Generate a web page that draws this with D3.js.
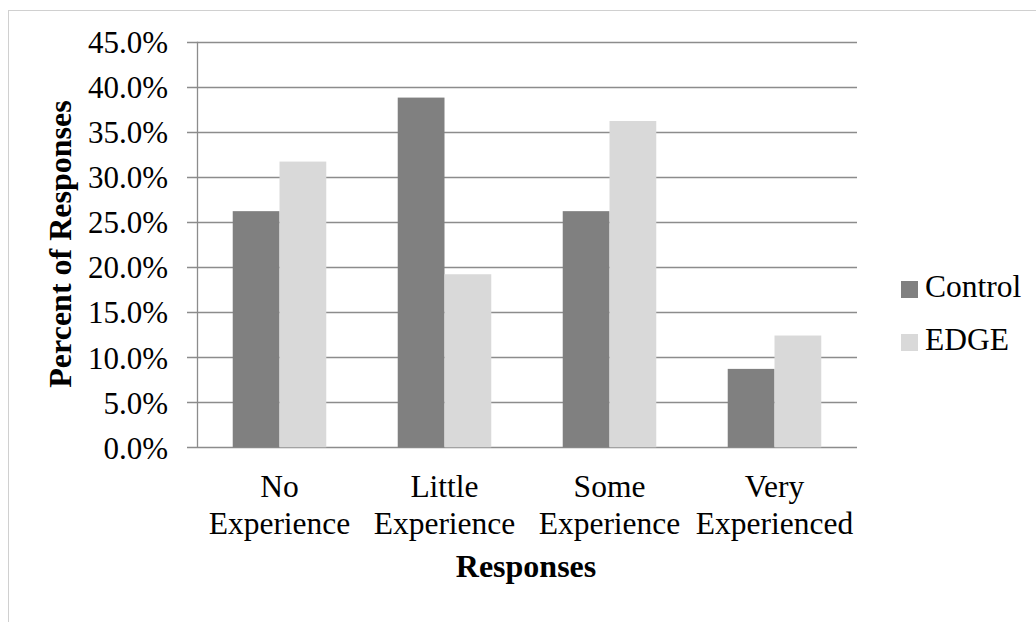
<!DOCTYPE html>
<html>
<head>
<meta charset="utf-8">
<script src="https://cdn.jsdelivr.net/npm/d3@7"></script>
<style>
  body { margin: 0; background: #fff; }
  text { font-family: "Liberation Serif", "Times New Roman", serif; fill: #000; }
</style>
</head>
<body>
<div id="chart"></div>
<script>
// data
var categories = [["No", "Experience"], ["Little", "Experience"], ["Some", "Experience"], ["Very", "Experienced"]];
var seriesNames = ["Control", "EDGE"];
var control = [0.262, 0.388, 0.262, 0.087];
var edge = [0.317, 0.192, 0.362, 0.124];
var yTicks = [0, 0.05, 0.10, 0.15, 0.20, 0.25, 0.30, 0.35, 0.40, 0.45];
var colors = ["#808080", "#d9d9d9"];

var width = 1036, height = 622;

var svg = d3.select("#chart")
  .append("svg")
    .attr("width", width)
    .attr("height", height);

// outer chart border
svg.append("rect")
  .attr("x", 8.5).attr("y", 10.5)
  .attr("width", 1040).attr("height", 640)
  .attr("fill", "none")
  .attr("stroke", "#d0d0d0");

var plotLeft = 197, plotRight = 857;

var y = d3.scaleLinear()
  .domain([0, 0.45])
  .range([447.3, 41.7]);

var x = d3.scaleBand()
  .domain(d3.range(categories.length))
  .range([plotLeft, plotRight])
  .padding(0);

var groupW = x.bandwidth() * 0.567;
var xs = d3.scaleBand()
  .domain(seriesNames)
  .range([0, groupW]);

// gridlines (they stick out left of the axis like tick marks)
svg.append("g")
  .selectAll("line")
  .data(yTicks)
  .enter()
  .append("line")
    .attr("x1", plotLeft - 10)
    .attr("x2", plotRight)
    .attr("y1", function (d) { return Math.round(y(d)) + 0.5; })
    .attr("y2", function (d) { return Math.round(y(d)) + 0.5; })
    .attr("stroke", "#8c8c8c")
    .attr("stroke-width", 1.3);

// bars
var table = seriesNames.map(function (s, i) {
  var vals = i === 0 ? control : edge;
  return vals.map(function (v, j) { return { series: s, cat: j, value: v, color: colors[i] }; });
});

svg.append("g")
  .selectAll("g")
  .data(table)
  .enter()
  .append("g")
  .selectAll("rect")
  .data(function (d) { return d; })
  .enter()
  .append("rect")
    .attr("x", function (d) { return x(d.cat) + (x.bandwidth() - groupW) / 2 + xs(d.series); })
    .attr("y", function (d) { return y(d.value); })
    .attr("width", xs.bandwidth())
    .attr("height", function (d) { return y(0) - y(d.value); })
    .attr("fill", function (d) { return d.color; });

// y axis
var yAxis = svg.append("g")
  .attr("transform", "translate(" + plotLeft + ",0)")
  .call(d3.axisLeft(y).tickValues(yTicks).tickFormat(d3.format(".1%")).tickSize(0).tickPadding(29));
yAxis.select(".domain").remove();
yAxis.selectAll("text")
  .attr("font-size", 31)
  .attr("font-family", "Liberation Serif, Times New Roman, serif")
  .attr("dy", "0.35em");

svg.append("line")
  .attr("x1", plotLeft + 0.5).attr("x2", plotLeft + 0.5)
  .attr("y1", y(0.45)).attr("y2", y(0) + 0.5)
  .attr("stroke", "#8c8c8c")
  .attr("stroke-width", 1.3);

// category labels
var catG = svg.append("g")
  .selectAll("text")
  .data(categories)
  .enter()
  .append("text")
    .attr("text-anchor", "middle")
    .attr("font-size", 31.5);
catG.append("tspan")
  .attr("x", function (d, i) { return x(i) + x.bandwidth() / 2; })
  .attr("y", 497)
  .text(function (d) { return d[0]; });
catG.append("tspan")
  .attr("x", function (d, i) { return x(i) + x.bandwidth() / 2; })
  .attr("y", 534)
  .text(function (d) { return d[1]; });

// axis titles
svg.append("text")
  .attr("x", 526).attr("y", 577)
  .attr("text-anchor", "middle")
  .attr("font-size", 32)
  .attr("font-weight", "bold")
  .text("Responses");

svg.append("text")
  .attr("transform", "translate(71,244) rotate(-90)")
  .attr("text-anchor", "middle")
  .attr("font-size", 32)
  .attr("font-weight", "bold")
  .text("Percent of Responses");

// legend
var legend = svg.append("g")
  .selectAll("g")
  .data(seriesNames)
  .enter()
  .append("g")
    .attr("transform", function (d, i) { return "translate(901," + (281 + i * 53) + ")"; });
legend.append("rect")
  .attr("width", 17).attr("height", 17)
  .attr("fill", function (d, i) { return colors[i]; });
legend.append("text")
  .attr("x", 24).attr("y", 16)
  .attr("font-size", 31.5)
  .text(function (d) { return d; });
</script>
</body>
</html>
